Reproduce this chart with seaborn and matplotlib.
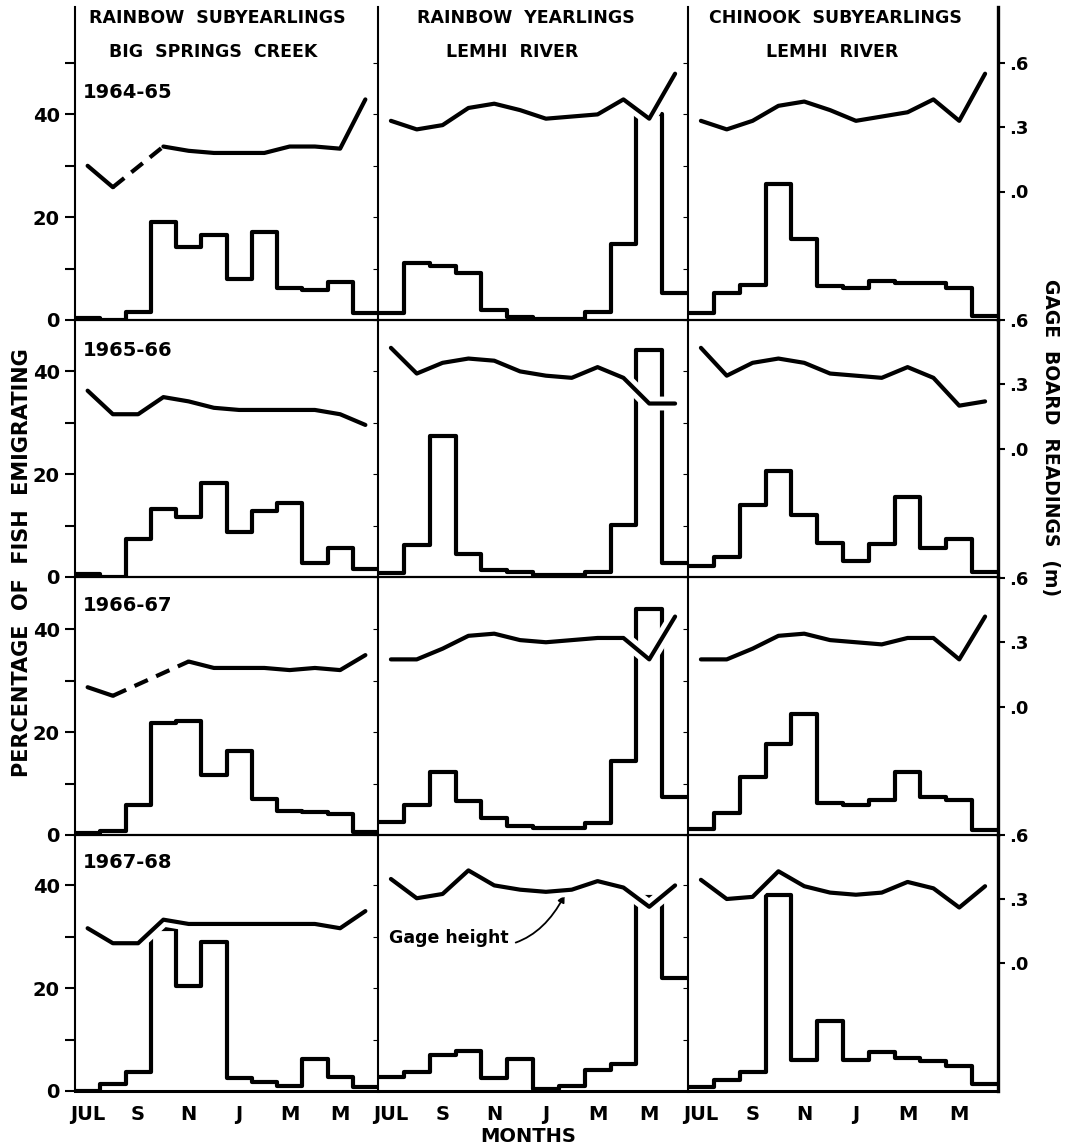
import numpy as np
import pandas as pd
import matplotlib
matplotlib.use("Agg")
import matplotlib.pyplot as plt
import matplotlib.patheffects as pe
import seaborn as sns

sns.set_style("white")
plt.rcParams['font.family'] = ['DejaVu Sans']
plt.rcParams.update({
    "text.color": "black",
    "axes.labelcolor": "black",
    "axes.edgecolor": "black",
    "xtick.color": "black",
    "ytick.color": "black",
})

# ---------------- data ----------------
months = ["JUL", "AUG", "SEP", "OCT", "NOV", "DEC", "JAN", "FEB", "MAR", "APR", "MAY", "JUN"]
month_tick_labels = ["JUL", "", "S", "", "N", "", "J", "", "M", "", "M", ""]
years = ["1964-65", "1965-66", "1966-67", "1967-68"]
group_line1 = ["RAINBOW  SUBYEARLINGS", "RAINBOW  YEARLINGS", "CHINOOK  SUBYEARLINGS"]
group_line2 = ["BIG  SPRINGS  CREEK", "LEMHI  RIVER", "LEMHI  RIVER"]
pct_ticks = [0, 10, 20, 30, 40, 50]
pct_tick_labels = ["0", "", "20", "", "40", ""]
gage_ticks = [0.0, 0.3, 0.6]
gage_tick_labels = [".0", ".3", ".6"]

# percentage of fish emigrating, per month (Jul..Jun)
pct_rb_sub_6465 = [0.3, 0.0, 1.6, 19.1, 14.2, 16.5, 7.9, 17.2, 6.3, 5.9, 7.3, 1.3]
pct_rb_sub_6566 = [0.5, 0.0, 7.4, 13.3, 11.6, 18.3, 8.8, 12.8, 14.3, 2.8, 5.7, 1.6]
pct_rb_sub_6667 = [0.4, 0.8, 5.8, 21.7, 22.2, 11.7, 16.4, 7.1, 4.7, 4.5, 4.1, 0.5]
pct_rb_sub_6768 = [0.0, 1.3, 3.6, 31.5, 20.4, 29.0, 2.5, 1.7, 0.9, 6.2, 2.7, 0.8]

pct_rb_yr_6465 = [1.3, 11.0, 10.5, 9.1, 1.9, 0.6, 0.2, 0.2, 1.6, 14.8, 40.0, 5.2]
pct_rb_yr_6566 = [0.7, 6.2, 27.4, 4.5, 1.4, 0.9, 0.4, 0.4, 0.9, 10.2, 44.1, 2.7]
pct_rb_yr_6667 = [2.6, 5.8, 12.2, 6.7, 3.4, 1.7, 1.4, 1.4, 2.4, 14.4, 44.0, 7.4]
pct_rb_yr_6768 = [2.8, 3.7, 7.0, 7.8, 2.5, 6.2, 0.3, 1.0, 4.1, 5.2, 37.7, 21.9]

pct_ch_sub_6465 = [1.3, 5.3, 6.8, 26.5, 15.7, 6.6, 6.3, 7.6, 7.2, 7.2, 6.2, 0.8]
pct_ch_sub_6566 = [2.2, 3.8, 14.0, 20.6, 12.0, 6.7, 3.1, 6.5, 15.6, 5.7, 7.4, 0.9]
pct_ch_sub_6667 = [1.1, 4.3, 11.3, 17.7, 23.6, 6.2, 5.8, 6.8, 12.2, 7.4, 6.9, 1.0]
pct_ch_sub_6768 = [0.8, 2.1, 3.7, 38.2, 6.0, 13.6, 6.0, 7.5, 6.5, 5.9, 4.9, 1.3]

# gage board readings (m), mid-month; NaN = missing (bridged with dashes)
nan = np.nan
gage_bsc_6465 = [0.12, 0.02, nan, 0.21, 0.19, 0.18, 0.18, 0.18, 0.21, 0.21, 0.20, 0.43]
gage_bsc_6566 = [0.27, 0.16, 0.16, 0.24, 0.22, 0.19, 0.18, 0.18, 0.18, 0.18, 0.16, 0.11]
gage_bsc_6667 = [0.09, 0.05, nan, nan, 0.21, 0.18, 0.18, 0.18, 0.17, 0.18, 0.17, 0.24]
gage_bsc_6768 = [0.16, 0.09, 0.09, 0.20, 0.18, 0.18, 0.18, 0.18, 0.18, 0.18, 0.16, 0.24]

gage_lem_yr_6465 = [0.33, 0.29, 0.31, 0.39, 0.41, 0.38, 0.34, 0.35, 0.36, 0.43, 0.34, 0.55]
gage_lem_yr_6566 = [0.47, 0.35, 0.40, 0.42, 0.41, 0.36, 0.34, 0.33, 0.38, 0.33, 0.21, 0.21]
gage_lem_yr_6667 = [0.22, 0.22, 0.27, 0.33, 0.34, 0.31, 0.30, 0.31, 0.32, 0.32, 0.22, 0.42]
gage_lem_yr_6768 = [0.39, 0.30, 0.32, 0.43, 0.36, 0.34, 0.33, 0.34, 0.38, 0.35, 0.26, 0.36]

gage_lem_ch_6465 = [0.33, 0.29, 0.33, 0.40, 0.42, 0.38, 0.33, 0.35, 0.37, 0.43, 0.33, 0.55]
gage_lem_ch_6566 = [0.47, 0.34, 0.40, 0.42, 0.40, 0.35, 0.34, 0.33, 0.38, 0.33, 0.20, 0.22]
gage_lem_ch_6667 = [0.22, 0.22, 0.27, 0.33, 0.34, 0.31, 0.30, 0.29, 0.32, 0.32, 0.22, 0.42]
gage_lem_ch_6768 = [0.39, 0.30, 0.31, 0.43, 0.36, 0.33, 0.32, 0.33, 0.38, 0.35, 0.26, 0.36]

pct_table = [
    [pct_rb_sub_6465, pct_rb_yr_6465, pct_ch_sub_6465],
    [pct_rb_sub_6566, pct_rb_yr_6566, pct_ch_sub_6566],
    [pct_rb_sub_6667, pct_rb_yr_6667, pct_ch_sub_6667],
    [pct_rb_sub_6768, pct_rb_yr_6768, pct_ch_sub_6768],
]
gage_table = [
    [gage_bsc_6465, gage_lem_yr_6465, gage_lem_ch_6465],
    [gage_bsc_6566, gage_lem_yr_6566, gage_lem_ch_6566],
    [gage_bsc_6667, gage_lem_yr_6667, gage_lem_ch_6667],
    [gage_bsc_6768, gage_lem_yr_6768, gage_lem_ch_6768],
]

# ---------------- layout ----------------
W, H = 1065, 1148
fig = plt.figure(figsize=(W / 100, H / 100), dpi=100)
fig.patch.set_facecolor("white")

col_x = [(75, 378), (378, 688), (688, 998)]
row_y = [(7, 320), (320, 577), (577, 835), (835, 1091)]
PX_PER_PCT = 257 / 50.0
M_PER_PCT = 0.024          # gage scale: 0 m at 25 %, 0.6 m at 50 %


def rect(c, r):
    x0, x1 = col_x[c]
    y0, y1 = row_y[r]
    return [x0 / W, 1 - y1 / H, (x1 - x0) / W, (y1 - y0) / H]


mid = np.arange(12) + 0.5
halo = [pe.withStroke(linewidth=10, foreground="white")]
LW = 3.0

for r in range(4):
    for c in range(3):
        ax = fig.add_axes(rect(c, r))
        ax.set_facecolor("none")
        top_pct = (row_y[r][1] - row_y[r][0]) / PX_PER_PCT

        df = pd.DataFrame({"month": mid, "pct": np.asarray(pct_table[r][c], float)})
        sns.histplot(data=df, x="month", weights="pct", binwidth=1,
                     binrange=(0, 12), element="step", fill=False,
                     color="black", linewidth=LW, ax=ax)
        ax.set_xlim(0, 12)
        ax.set_ylim(0, top_pct)
        ax.set_xlabel("")
        ax.set_ylabel("")

        for s in ax.spines.values():
            s.set_color("black")
        ax.spines["top"].set_visible(False)
        ax.spines["right"].set_visible(False)
        ax.spines["left"].set_linewidth(1.5)
        ax.spines["bottom"].set_linewidth(2.2 if r == 3 else 1.6)

        ticks = pct_ticks if r == 0 else pct_ticks[:-1]
        ax.set_yticks(ticks)
        if c == 0:
            ax.set_yticklabels(pct_tick_labels[:len(ticks)], fontsize=14,
                               fontweight="bold")
            ax.tick_params(axis="y", direction="out", length=7, width=1.5, pad=4)
        else:
            ax.tick_params(axis="y", left=False, labelleft=False)

        ax.set_xticks(mid)
        if r == 3:
            ax.set_xticklabels(month_tick_labels, fontsize=14, fontweight="bold")
            ax.tick_params(axis="x", direction="out", length=6, width=1.5, pad=4)
        else:
            ax.tick_params(axis="x", bottom=False, labelbottom=False)

        ax2 = ax.twinx()
        ax2.set_ylim(-0.6, -0.6 + top_pct * M_PER_PCT)
        for s in ax2.spines.values():
            s.set_visible(False)
        if c == 2:
            ax2.spines["right"].set_visible(True)
            ax2.spines["right"].set_color("black")
            ax2.spines["right"].set_linewidth(2.4)
            ax2.set_yticks(gage_ticks)
            ax2.set_yticklabels(gage_tick_labels, fontsize=13, fontweight="bold")
            ax2.tick_params(axis="y", direction="out", length=5, width=1.5, pad=3,
                            colors="black")
        else:
            ax2.set_yticks([])

        g = np.asarray(gage_table[r][c], dtype=float)
        valid = ~np.isnan(g)
        runs, run = [], []
        for i in range(12):
            if valid[i]:
                run.append(i)
            else:
                if run:
                    runs.append(run)
                run = []
        if run:
            runs.append(run)
        for rn in runs:
            if len(rn) > 1:
                sns.lineplot(x=mid[rn], y=g[rn], ax=ax2, color="black",
                             linewidth=LW, path_effects=halo, zorder=5,
                             solid_joinstyle="round", solid_capstyle="round")
        idx = np.where(valid)[0]
        for a, b in zip(idx[:-1], idx[1:]):
            if b - a > 1:
                sns.lineplot(x=[mid[a], mid[b]], y=[g[a], g[b]], ax=ax2,
                             color="black", linewidth=LW, zorder=5,
                             linestyle=(0, (3.5, 2.2)), dash_capstyle="butt")
        ax2.set_ylabel("")

        if c == 0:
            ypos = {0: (320 - 93) / 313, 1: 0.883, 2: 0.891, 3: 0.894}[r]
            ax.text(0.025, ypos, years[r], transform=ax.transAxes,
                    fontsize=14, fontweight="bold", ha="left", va="center",
                    color="black")

        if r == 3 and c == 1:
            ax2.annotate("Gage height", xy=(7.25, 0.32),
                         xytext=(0.035, 0.598), textcoords="axes fraction",
                         fontsize=12.5, fontweight="bold", ha="left", va="center",
                         color="black",
                         arrowprops=dict(arrowstyle="-|>", color="black", lw=1.3,
                                         connectionstyle="arc3,rad=0.45",
                                         shrinkA=3, shrinkB=1,
                                         mutation_scale=10))

title_x1 = [217, 526, 835]
title_x2 = [213, 512, 832]
for c in range(3):
    fig.text(title_x1[c] / W, 1 - 18 / H, group_line1[c], ha="center", va="center",
             fontsize=12.5, fontweight="bold", color="black")
    fig.text(title_x2[c] / W, 1 - 52 / H, group_line2[c], ha="center", va="center",
             fontsize=12.5, fontweight="bold", color="black")

fig.text(22 / W, 1 - 563 / H, "PERCENTAGE  OF  FISH  EMIGRATING", rotation=90,
         ha="center", va="center", fontsize=15, fontweight="bold", color="black")
fig.text(1050 / W, 1 - 438 / H, "GAGE  BOARD  READINGS  (m)", rotation=270,
         ha="center", va="center", fontsize=13.5, fontweight="bold", color="black")
fig.text(528 / W, 1 - 1137 / H, "MONTHS", ha="center", va="center",
         fontsize=14, fontweight="bold", color="black")

fig.savefig("out.png", dpi=100, facecolor="white")
